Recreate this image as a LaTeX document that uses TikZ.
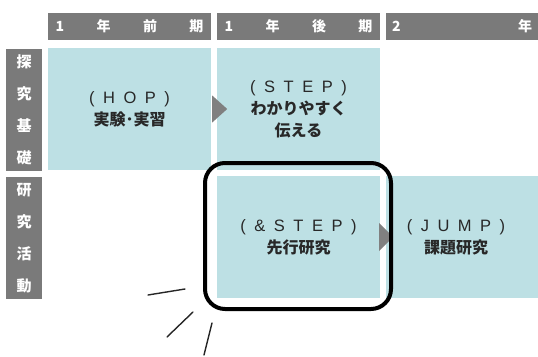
\documentclass[tikz,border=0pt]{standalone}
\usepackage{fontspec}
\setmainfont{Noto Sans CJK JP}
\newfontfamily\latn{Liberation Sans}
\usetikzlibrary{calc}
\definecolor{barcol}{RGB}{122,122,122}
\definecolor{cellcol}{RGB}{189,224,228}
\definecolor{tricol}{RGB}{128,128,128}
\definecolor{txtcol}{RGB}{40,40,40}
\newcommand{\lgap}{\hspace{8.5pt}}
\newcommand{\ltr}[1]{{\latn\mdseries\fontsize{16.5}{16.5}\selectfont #1}}
\tikzset{
  bar/.style={fill=barcol, text=white, inner sep=0pt, minimum height=27pt,
    font=\fontsize{14}{14}\selectfont\bfseries},
  side/.style={fill=barcol, text=white, inner sep=0pt, minimum width=36pt,
    minimum height=122pt, align=center, font=\fontsize{15}{32}\selectfont\bfseries},
  cell/.style={fill=cellcol, text=txtcol, inner sep=0pt, minimum width=163pt,
    minimum height=122pt, align=center, font=\fontsize{16}{22}\selectfont\bfseries},
  tri/.style={fill=tricol},
  spark/.style={line width=1.4pt, line cap=round, black!85},
}
\begin{document}
\begin{tikzpicture}[x=1pt,y=-1pt]
    \useasboundingbox (0,0) rectangle (538,356);

    % headers
    \node[bar, minimum width=163pt] (h1) at (129.5,26.5) {\makebox[148pt][s]{1\hfill 年\hfill 前\hfill 期}};
    \node[bar, minimum width=163pt] (h2) at (298.5,26.5) {\makebox[148pt][s]{1\hfill 年\hfill 後\hfill 期}};
    \node[bar, minimum width=152pt] (h3) at (462,26.5) {\makebox[140pt][s]{2\hfill 年}};

    % side labels
    \node[side] (r1) at (24,110) {探\\究\\基\\礎};
    \node[side] (r2) at (24,238) {研\\究\\活\\動};

    % cells
    \node[cell] (hop) at (129.5,109) {\ltr{(\lgap H\lgap O\lgap P\lgap )}\\実験･実習};
    \node[cell] (step) at (298.5,109) {\ltr{(\lgap S\lgap T\lgap E\lgap P\lgap )}\\わかりやすく\\伝える};
    \node[cell] (astep) at (298.5,237) {\ltr{(\lgap \&\lgap S\lgap T\lgap E\lgap P\lgap )}\\先行研究};
    \node[cell, minimum width=152pt] (jump) at (462,237) {\ltr{(\lgap J\lgap U\lgap M\lgap P\lgap )}\hspace*{12pt}\\課題研究\hspace*{12pt}};

    % arrows
    \fill[tri] ($(hop.east)+(1,-13.5)$) -- ($(hop.east)+(16,0)$) -- ($(hop.east)+(1,13.5)$) -- cycle;
    \fill[tri] ($(astep.east)+(-1,-14)$) -- ($(astep.east)+(13,0)$) -- ($(astep.east)+(-1,14)$) -- cycle;

    % highlight
    \draw[line width=4pt, rounded corners=20pt] (205,163) rectangle (391,309);
    \draw[spark] (148,295) -- (185,289);
    \draw[spark] (167,337) -- (193,312);
    \draw[spark] (204,355) -- (212,323);

\end{tikzpicture}
\end{document}
